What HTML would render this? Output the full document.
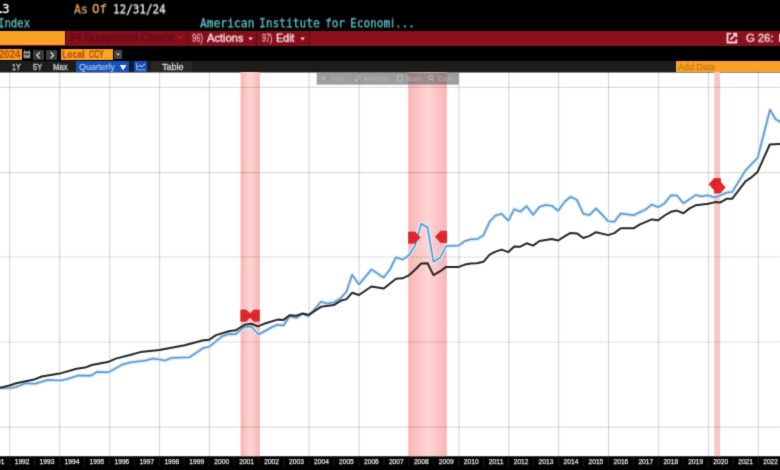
<!DOCTYPE html>
<html lang="en">
<head>
<meta charset="utf-8">
<title>Chart</title>
<style>
html,body{margin:0;padding:0;background:#000;overflow:hidden;}
body{width:780px;height:470px;overflow:hidden;position:relative;font-family:"Liberation Sans",sans-serif;}
#app{position:absolute;left:0;top:0;width:780px;height:470px;background:#000;overflow:hidden;filter:url(#soft);}
.a,.tx{position:absolute;white-space:nowrap;}
.row{position:absolute;left:0;top:0;width:0;height:0;}
.dot{position:relative;left:-5.1px;margin-right:-1ch;}
.ei{font-family:"Liberation Sans",sans-serif;margin-left:0.9px;}
.tx{transform-origin:0 0;will-change:transform;}
.m{font-family:"DejaVu Sans Mono","Liberation Mono",monospace;-webkit-text-stroke:0.3px currentColor;}
.s{font-family:"Liberation Sans","DejaVu Sans",sans-serif;}
.k{-webkit-text-stroke:0.35px currentColor;}
.b{font-weight:bold;-webkit-text-stroke:0.2px currentColor;}
.bar3{left:-10px;top:30.6px;width:800px;height:15px;background:#8b111d;}
.dv{top:30.6px;width:1.2px;height:15px;background:#5e0a13;}
.org{background:#fba226;}
.btn{background:#3a3a3a;}
.bar5{left:-10px;top:60.5px;width:800px;height:12.1px;background:#1c1c1a;}
.blu{background:#1550b6;}
.chart{position:absolute;left:0;top:72px;display:block;overflow:visible;}
.g{stroke:#000;stroke-opacity:0.2;stroke-width:1.2;stroke-dasharray:1.5 0.5;}
.gh{stroke:#000;stroke-opacity:0.18;stroke-width:1.2;stroke-dasharray:1.5 0.5;}
.bl{fill:none;stroke:#5a94cb;stroke-width:1.55;stroke-linejoin:round;}
.halo{fill:none;stroke:#d6ecfb;stroke-width:4;stroke-linejoin:round;}
.bk{fill:none;stroke:#262626;stroke-width:2;stroke-linejoin:round;}
.mk path{fill:#e5272d;stroke:#bf1c24;stroke-width:0.7;stroke-linejoin:round;}
.mkl line{stroke:#c41a24;stroke-width:1;opacity:0.7;}
.yl{font-family:"Liberation Sans",sans-serif;font-size:7.8px;fill:#e4e4e4;text-anchor:middle;stroke:#e4e4e4;stroke-width:0.25;}
.tb text{font-family:"Liberation Sans",sans-serif;font-size:8px;fill:#b3b3b3;}
.tbi path,.tbi rect,.tbi circle{fill:none;stroke:#c8c8c8;stroke-width:0.9;opacity:0.8;}
</style>
</head>
<body>
<svg width="0" height="0" style="position:absolute"><defs><filter id="soft" x="0" y="0" width="100%" height="100%" color-interpolation-filters="sRGB"><feConvolveMatrix order="3" kernelMatrix="1 6 1 6 36 6 1 6 1" divisor="64" edgeMode="duplicate" preserveAlpha="true"/></filter></defs></svg>
<div id="app">
<!-- header bars -->
<div class="a bar3"></div>
<div class="a" style="left:-10px;top:30.6px;width:319.6px;height:15px;background:#85101c;"></div>
<div class="a org" style="left:-10px;top:31.2px;width:74.6px;height:13.8px;"></div>
<div class="a" style="left:64.6px;top:30.6px;width:1.3px;height:15px;background:#3a060c;"></div>
<div class="a dv" style="left:187.1px;"></div>
<div class="a dv" style="left:256.2px;"></div>
<div class="a dv" style="left:309.1px;"></div>
<svg class="a" style="left:176.6px;top:36.4px;" width="8" height="6" viewBox="0 0 8 6"><path d="M0.6 0.6 H5.4 L3 3.6 Z" fill="#b01a2c"/></svg>
<svg class="a" style="left:248px;top:36.6px;" width="6" height="5" viewBox="0 0 6 5"><path d="M0.4 0.6 H4.8 L2.6 3.6 Z" fill="#f6d3d8"/></svg>
<svg class="a" style="left:299.6px;top:36.6px;" width="6" height="5" viewBox="0 0 6 5"><path d="M0.4 0.6 H4.8 L2.6 3.6 Z" fill="#f6d3d8"/></svg>
<svg class="a" style="left:725.6px;top:31.6px;" width="12" height="12" viewBox="0 0 12 12">
<path d="M5 1.7 H1.5 V10.5 H10.3 V7.2" fill="none" stroke="#f8d6db" stroke-width="1.8"/>
<path d="M4.4 7.6 L9.4 2.6" fill="none" stroke="#f8d6db" stroke-width="1.9"/>
<path d="M6 0.8 H11.2 V6 Z" fill="#f8d6db"/>
</svg>
<div class="a" style="left:778.6px;top:33.5px;width:3px;height:8.2px;background:#f1cfd4;"></div>
<!-- row 4 controls -->
<div class="a org" style="left:-10px;top:49.3px;width:31.9px;height:10.8px;"></div>
<svg class="a" style="left:23px;top:50px;" width="8" height="9" viewBox="0 0 8 9">
<rect x="0.5" y="1.4" width="6.8" height="6.8" rx="0.8" fill="#969696"/>
<rect x="1.2" y="0.4" width="1.2" height="1.6" fill="#b0b0b0"/><rect x="5.4" y="0.4" width="1.2" height="1.6" fill="#b0b0b0"/>
<rect x="1.6" y="3.6" width="4.6" height="1.5" fill="#2c2c2c"/>
</svg>
<div class="a btn" style="left:32.7px;top:49.7px;width:11px;height:10.4px;"></div>
<div class="a btn" style="left:46.2px;top:49.7px;width:10.8px;height:10.4px;"></div>
<svg class="a" style="left:32.7px;top:49.7px;" width="25" height="11" viewBox="0 0 25 11">
<path d="M6.8 2.2 L3.8 5.2 L6.8 8.2" fill="none" stroke="#cfcfcf" stroke-width="1.4"/>
<path d="M17.6 2.2 L20.6 5.2 L17.6 8.2" fill="none" stroke="#cfcfcf" stroke-width="1.4"/>
</svg>
<div class="a org" style="left:60.9px;top:49.3px;width:51.7px;height:10.8px;"></div>
<div class="a" style="left:114.3px;top:49.7px;width:7.4px;height:9.6px;background:#454545;"></div>
<svg class="a" style="left:116px;top:53.2px;" width="5" height="4" viewBox="0 0 5 4"><path d="M0.4 0.4 H3.8 L2.1 2.8 Z" fill="#e0e0e0"/></svg>
<!-- row 5 toolbar -->
<div class="a bar5"></div>
<div class="a blu" style="left:75.7px;top:60.9px;width:53.3px;height:11.5px;"></div>
<svg class="a" style="left:119px;top:63.6px;" width="9" height="8" viewBox="0 0 9 8"><path d="M0.8 1 H7.4 L4.1 6.4 Z" fill="#f2f7ff"/></svg>
<div class="a" style="left:129px;top:60.5px;width:5.1px;height:12.1px;background:#0a1a36;"></div>
<div class="a blu" style="left:134.1px;top:60.9px;width:13.3px;height:11.5px;"></div>
<svg class="a" style="left:134.1px;top:61.3px;" width="14" height="11" viewBox="0 0 14 11">
<path d="M2.6 2 V8.8 H11.4" fill="none" stroke="#9cc4ff" stroke-width="0.9"/>
<path d="M3.2 6.4 L5.6 4.2 L7.8 5.8 L11 2.8" fill="none" stroke="#d4e6ff" stroke-width="1"/>
</svg>
<div class="a" style="left:151px;top:60.9px;width:41.2px;height:11.7px;background:#282624;"></div>
<div class="a org" style="left:675.8px;top:61.1px;width:114.2px;height:10.5px;"></div>
<!-- text -->
<div class="row" id="hdr1"><div class="tx m" style="left:1.81px;top:1px;font-size:12.39px;line-height:16px;color:#eeeeee;transform:translateY(0.40px) scaleX(1.0158);"><span class="dot">.</span>3</div>
<div class="tx m" style="left:73.82px;top:1px;font-size:12.39px;line-height:16px;color:#dfa067;transform:translateY(0.40px) scaleX(0.9227);">As</div>
<div class="tx m" style="left:92.11px;top:1px;font-size:12.39px;line-height:16px;color:#dfa067;transform:translateY(0.40px) scaleX(1.0102);">Of</div>
<div class="tx m" style="left:113.20px;top:1px;font-size:12.39px;line-height:16px;color:#eeeeee;transform:translateY(0.40px) scaleX(0.8835);">12/31/24</div></div>
<div class="row" id="hdr2"><div class="tx m" style="left:-2.31px;top:14px;font-size:12.80px;line-height:17px;color:#62c3cc;transform:translateY(0.30px) scaleX(0.8322);">Index</div>
<div class="tx m" style="left:200.12px;top:14px;font-size:12.80px;line-height:17px;color:#62c3cc;transform:translateY(0.30px) scaleX(0.8816);">American</div>
<div class="tx m" style="left:259.25px;top:14px;font-size:12.80px;line-height:17px;color:#62c3cc;transform:translateY(0.30px) scaleX(0.8762);">Institute</div>
<div class="tx m" style="left:324.57px;top:14px;font-size:12.80px;line-height:17px;color:#62c3cc;transform:translateY(0.30px) scaleX(0.8606);">for</div>
<div class="tx m" style="left:350.45px;top:14px;font-size:12.80px;line-height:17px;color:#62c3cc;transform:translateY(0.30px) scaleX(0.8713);">Econom<span class="ei">i</span></div><div class="tx m" style="left:395.10px;top:14px;font-size:12.80px;line-height:17px;color:#62c3cc;transform:translateY(0.30px) scaleX(0.8590);">...</div></div>
<div class="row" id="menu"><div class="tx s k" style="left:69.38px;top:30px;font-size:10.52px;line-height:14px;color:#620b17;transform:translateY(0.30px) scaleX(1.0576);">94 Suggested Charts</div>
<div class="tx s k" style="left:191.54px;top:30px;font-size:11.09px;line-height:14px;color:#f0aab4;transform:translateY(0.70px) scaleX(0.6895);">96)</div>
<div class="tx s k" style="left:206.70px;top:29px;font-size:11.66px;line-height:15px;color:#fbe9ec;transform:translateY(0.70px) scaleX(0.9504);">Actions</div>
<div class="tx s k" style="left:261.87px;top:30px;font-size:11.09px;line-height:14px;color:#f0aab4;transform:translateY(0.70px) scaleX(0.6426);">97)</div>
<div class="tx s k" style="left:276.37px;top:29px;font-size:11.66px;line-height:15px;color:#fbe9ec;transform:translateY(0.70px) scaleX(0.9155);">Edit</div>
<div class="tx s k" style="left:746.47px;top:29px;font-size:11.66px;line-height:15px;color:#f7dde1;transform:translateY(0.70px) scaleX(0.9657);">G 26:</div></div>
<div class="row" id="ctl"><div class="tx s b" style="left:-0.70px;top:48px;font-size:10.10px;line-height:13px;color:#b5500c;transform:translateY(0.00px) scaleX(0.9454);">2024</div>
<div class="tx s b" style="left:61.96px;top:47px;font-size:10.24px;line-height:13px;color:#b5500c;transform:translateY(0.90px) scaleX(0.8431);">Local</div>
<div class="tx s b" style="left:89.08px;top:47px;font-size:10.24px;line-height:13px;color:#b5500c;transform:translateY(0.90px) scaleX(0.6796);">CCY</div></div>
<div class="row" id="tools"><div class="tx s k" style="left:11.76px;top:61px;font-size:8.82px;line-height:12px;color:#d2d2d2;transform:translateY(0.00px) scaleX(0.7988);">1Y</div>
<div class="tx s k" style="left:32.87px;top:61px;font-size:8.82px;line-height:12px;color:#d2d2d2;transform:translateY(0.00px) scaleX(0.8353);">5Y</div>
<div class="tx s k" style="left:53.40px;top:61px;font-size:8.82px;line-height:12px;color:#d2d2d2;transform:translateY(0.00px) scaleX(0.8767);">Max</div>
<div class="tx s" style="left:78.99px;top:61px;font-size:8.96px;line-height:12px;color:#c4e0ff;transform:translateY(0.00px) scaleX(0.9773);">Quarterly</div>
<div class="tx s k" style="left:161.56px;top:61px;font-size:8.82px;line-height:12px;color:#d2d2d2;transform:translateY(0.00px) scaleX(1.0250);">Table</div>
<div class="tx s k" style="left:677.90px;top:61px;font-size:9.39px;line-height:12px;color:#c67b18;transform:translateY(0.00px) scaleX(0.9516);">Add Data</div></div>
<svg class="chart" width="780" height="398" viewBox="0 72 780 398">
<defs>
<linearGradient id="rb" x1="0" x2="1" y1="0" y2="0">
<stop offset="0" stop-color="#f9b4b4"/><stop offset="0.12" stop-color="#fbbcbc"/><stop offset="0.5" stop-color="#fdd6d4"/><stop offset="0.88" stop-color="#fbbcbc"/><stop offset="1" stop-color="#f9b4b4"/>
</linearGradient>
</defs>
<rect x="-10" y="72.5" width="800" height="384.0" fill="#fff"/>
<line x1="9.8" x2="9.8" y1="72" y2="456.5" class="g"/>
<line x1="59.7" x2="59.7" y1="72" y2="456.5" class="g"/>
<line x1="109.6" x2="109.6" y1="72" y2="456.5" class="g"/>
<line x1="159.5" x2="159.5" y1="72" y2="456.5" class="g"/>
<line x1="209.4" x2="209.4" y1="72" y2="456.5" class="g"/>
<line x1="259.3" x2="259.3" y1="72" y2="456.5" class="g"/>
<line x1="309.2" x2="309.2" y1="72" y2="456.5" class="g"/>
<line x1="359.1" x2="359.1" y1="72" y2="456.5" class="g"/>
<line x1="409.0" x2="409.0" y1="72" y2="456.5" class="g"/>
<line x1="458.9" x2="458.9" y1="72" y2="456.5" class="g"/>
<line x1="508.8" x2="508.8" y1="72" y2="456.5" class="g"/>
<line x1="558.7" x2="558.7" y1="72" y2="456.5" class="g"/>
<line x1="608.6" x2="608.6" y1="72" y2="456.5" class="g"/>
<line x1="658.5" x2="658.5" y1="72" y2="456.5" class="g"/>
<line x1="708.4" x2="708.4" y1="72" y2="456.5" class="g"/>
<line x1="758.3" x2="758.3" y1="72" y2="456.5" class="g"/>
<rect x="240.6" y="72" width="18.9" height="384.5" fill="url(#rb)"/>
<rect x="408.4" y="72" width="38.4" height="384.5" fill="url(#rb)"/>
<rect x="714.3" y="72" width="5.8" height="384.5" fill="#f9c8c4"/>
<line x1="-10" x2="790" y1="87.4" y2="87.4" class="gh"/>
<line x1="-10" x2="790" y1="172.7" y2="172.7" class="gh"/>
<line x1="-10" x2="790" y1="257.0" y2="257.0" class="gh"/>
<line x1="-10" x2="790" y1="342.0" y2="342.0" class="gh"/>
<line x1="-10" x2="790" y1="427.1" y2="427.1" class="gh"/>
<polyline points="-12.0,388.6 9.4,388.0 15.3,387.2 25.5,383.3 34.9,383.8 47.6,379.9 59.6,380.4 65.5,379.6 78.3,375.6 91.0,375.6 97.0,371.9 108.9,372.2 121.7,364.8 130.0,362.5 145.5,360.6 153.2,358.4 165.1,360.6 171.0,358.0 189.8,357.2 203.4,347.9 209.3,346.7 222.1,336.3 228.9,333.9 235.7,334.2 242.5,328.3 245.3,326.9 251.3,326.4 258.6,334.5 271.7,327.2 277.6,324.7 283.6,325.5 289.6,316.2 296.4,317.9 302.3,313.6 308.6,316.2 321.0,301.7 327.0,303.4 333.8,302.5 340.6,298.3 346.6,291.5 352.1,274.9 359.0,284.4 371.4,269.4 383.8,277.6 390.1,269.1 396.0,257.2 402.5,259.6 408.8,255.5 415.1,245.6 421.2,223.8 427.5,227.3 433.5,261.8 440.3,257.5 446.2,246.0 458.7,245.6 465.0,240.9 471.0,239.3 476.9,239.3 483.4,235.4 489.7,221.5 495.6,215.5 501.6,213.8 508.4,220.6 514.3,209.1 520.3,211.8 526.6,206.2 533.1,214.7 539.5,206.7 545.8,205.0 551.8,205.7 558.2,210.8 564.5,201.9 570.5,196.8 577.0,199.9 583.3,213.8 589.6,215.0 596.0,208.4 608.3,221.2 614.3,221.7 620.7,213.5 633.5,215.2 645.4,209.6 651.7,204.6 658.2,207.2 664.6,203.3 670.9,195.3 676.9,195.6 683.4,203.3 695.6,195.1 702.1,196.4 707.3,195.3 714.9,197.5 720.6,195.3 727.0,192.5 732.1,192.1 739.2,180.6 745.5,170.4 757.7,157.7 770.0,109.7 775.7,119.4 782.0,122.8 792.0,128.0" class="halo"/>
<polyline points="-12.0,388.6 9.4,388.0 15.3,387.2 25.5,383.3 34.9,383.8 47.6,379.9 59.6,380.4 65.5,379.6 78.3,375.6 91.0,375.6 97.0,371.9 108.9,372.2 121.7,364.8 130.0,362.5 145.5,360.6 153.2,358.4 165.1,360.6 171.0,358.0 189.8,357.2 203.4,347.9 209.3,346.7 222.1,336.3 228.9,333.9 235.7,334.2 242.5,328.3 245.3,326.9 251.3,326.4 258.6,334.5 271.7,327.2 277.6,324.7 283.6,325.5 289.6,316.2 296.4,317.9 302.3,313.6 308.6,316.2 321.0,301.7 327.0,303.4 333.8,302.5 340.6,298.3 346.6,291.5 352.1,274.9 359.0,284.4 371.4,269.4 383.8,277.6 390.1,269.1 396.0,257.2 402.5,259.6 408.8,255.5 415.1,245.6 421.2,223.8 427.5,227.3 433.5,261.8 440.3,257.5 446.2,246.0 458.7,245.6 465.0,240.9 471.0,239.3 476.9,239.3 483.4,235.4 489.7,221.5 495.6,215.5 501.6,213.8 508.4,220.6 514.3,209.1 520.3,211.8 526.6,206.2 533.1,214.7 539.5,206.7 545.8,205.0 551.8,205.7 558.2,210.8 564.5,201.9 570.5,196.8 577.0,199.9 583.3,213.8 589.6,215.0 596.0,208.4 608.3,221.2 614.3,221.7 620.7,213.5 633.5,215.2 645.4,209.6 651.7,204.6 658.2,207.2 664.6,203.3 670.9,195.3 676.9,195.6 683.4,203.3 695.6,195.1 702.1,196.4 707.3,195.3 714.9,197.5 720.6,195.3 727.0,192.5 732.1,192.1 739.2,180.6 745.5,170.4 757.7,157.7 770.0,109.7 775.7,119.4 782.0,122.8 792.0,128.0" class="bl"/>
<polyline points="-12.0,390.6 9.4,385.5 16.2,383.3 34.0,379.6 41.7,376.5 59.6,373.6 76.6,368.8 85.0,367.6 91.9,365.0 108.9,361.7 115.7,358.6 130.0,355.0 140.4,352.1 159.5,349.9 184.7,345.3 203.4,340.2 209.3,339.7 216.1,335.1 228.9,331.3 235.7,330.3 242.5,326.1 245.3,324.7 251.3,323.8 258.0,326.4 264.0,323.8 277.6,319.6 283.6,319.9 289.6,315.3 296.4,315.8 302.3,313.6 308.6,314.8 321.0,306.8 333.8,305.1 340.6,300.8 346.6,299.1 352.2,292.7 359.0,295.0 371.4,286.5 383.8,288.5 396.0,278.8 402.5,278.3 408.8,275.4 415.1,269.8 421.2,263.5 427.5,263.2 433.5,275.1 440.3,271.2 446.2,266.9 458.7,266.9 465.0,264.6 471.0,263.5 476.9,263.2 483.4,261.8 489.7,254.7 495.6,251.6 501.6,249.6 508.4,252.1 514.3,246.5 520.3,246.7 526.6,243.3 533.1,245.6 539.5,241.0 545.8,239.9 551.8,239.0 558.2,240.5 564.5,236.3 570.5,232.9 577.0,233.4 583.3,238.0 589.6,235.9 596.0,232.2 608.3,235.1 614.3,233.1 620.7,228.3 633.5,228.3 639.5,224.6 651.7,219.4 658.2,220.3 664.6,215.5 670.9,211.8 676.9,210.6 683.4,213.2 689.6,208.4 695.6,205.3 702.1,204.5 708.5,203.7 714.9,202.1 720.0,202.6 726.4,198.8 732.1,198.8 739.2,189.6 745.5,181.3 751.3,177.4 757.7,171.7 769.8,144.5 792.0,143.2" class="bk"/>
<g class="mk">
<path d="M240.8 310 L246.3 310 L251.8 315.6 L246.3 321.2 L240.8 321.2 Z"/>
<path d="M259.3 310 L253.8 310 L248.3 315.6 L253.8 321.2 L259.3 321.2 Z"/>
<path d="M408.6 232 L415 232 L420 237.6 L415 243.2 L408.6 243.2 Z"/>
<path d="M446.7 231.2 L440.5 231.2 L435.5 236.8 L440.5 242.4 L446.7 242.4 Z"/>
<path d="M720.5 178.6 L714 178.6 L709 184.2 L714 189.8 L720.5 189.8 Z"/>
<path d="M714.4 181.8 L720.3 181.8 L725.3 187.4 L720.3 193 L714.4 193 Z"/>
</g>
<g class="mkl"><line x1="241" x2="259.4" y1="315.6" y2="315.6"/><line x1="408.6" x2="419" y1="237.6" y2="237.6"/><line x1="436.5" x2="446.7" y1="236.8" y2="236.8"/></g>
<rect x="-10" y="456.5" width="800" height="23.5" fill="#000"/>
<line x1="-15.3" x2="-15.3" y1="456.5" y2="466" stroke="#1d1d1d" stroke-width="1"/>
<line x1="9.6" x2="9.6" y1="456.5" y2="466" stroke="#1d1d1d" stroke-width="1"/>
<line x1="34.5" x2="34.5" y1="456.5" y2="466" stroke="#1d1d1d" stroke-width="1"/>
<line x1="59.5" x2="59.5" y1="456.5" y2="466" stroke="#1d1d1d" stroke-width="1"/>
<line x1="84.4" x2="84.4" y1="456.5" y2="466" stroke="#1d1d1d" stroke-width="1"/>
<line x1="109.4" x2="109.4" y1="456.5" y2="466" stroke="#1d1d1d" stroke-width="1"/>
<line x1="134.3" x2="134.3" y1="456.5" y2="466" stroke="#1d1d1d" stroke-width="1"/>
<line x1="159.3" x2="159.3" y1="456.5" y2="466" stroke="#1d1d1d" stroke-width="1"/>
<line x1="184.2" x2="184.2" y1="456.5" y2="466" stroke="#1d1d1d" stroke-width="1"/>
<line x1="209.2" x2="209.2" y1="456.5" y2="466" stroke="#1d1d1d" stroke-width="1"/>
<line x1="234.1" x2="234.1" y1="456.5" y2="466" stroke="#1d1d1d" stroke-width="1"/>
<line x1="259.1" x2="259.1" y1="456.5" y2="466" stroke="#1d1d1d" stroke-width="1"/>
<line x1="284.1" x2="284.1" y1="456.5" y2="466" stroke="#1d1d1d" stroke-width="1"/>
<line x1="309.0" x2="309.0" y1="456.5" y2="466" stroke="#1d1d1d" stroke-width="1"/>
<line x1="333.9" x2="333.9" y1="456.5" y2="466" stroke="#1d1d1d" stroke-width="1"/>
<line x1="358.9" x2="358.9" y1="456.5" y2="466" stroke="#1d1d1d" stroke-width="1"/>
<line x1="383.9" x2="383.9" y1="456.5" y2="466" stroke="#1d1d1d" stroke-width="1"/>
<line x1="408.8" x2="408.8" y1="456.5" y2="466" stroke="#1d1d1d" stroke-width="1"/>
<line x1="433.8" x2="433.8" y1="456.5" y2="466" stroke="#1d1d1d" stroke-width="1"/>
<line x1="458.7" x2="458.7" y1="456.5" y2="466" stroke="#1d1d1d" stroke-width="1"/>
<line x1="483.7" x2="483.7" y1="456.5" y2="466" stroke="#1d1d1d" stroke-width="1"/>
<line x1="508.6" x2="508.6" y1="456.5" y2="466" stroke="#1d1d1d" stroke-width="1"/>
<line x1="533.5" x2="533.5" y1="456.5" y2="466" stroke="#1d1d1d" stroke-width="1"/>
<line x1="558.5" x2="558.5" y1="456.5" y2="466" stroke="#1d1d1d" stroke-width="1"/>
<line x1="583.5" x2="583.5" y1="456.5" y2="466" stroke="#1d1d1d" stroke-width="1"/>
<line x1="608.4" x2="608.4" y1="456.5" y2="466" stroke="#1d1d1d" stroke-width="1"/>
<line x1="633.4" x2="633.4" y1="456.5" y2="466" stroke="#1d1d1d" stroke-width="1"/>
<line x1="658.3" x2="658.3" y1="456.5" y2="466" stroke="#1d1d1d" stroke-width="1"/>
<line x1="683.2" x2="683.2" y1="456.5" y2="466" stroke="#1d1d1d" stroke-width="1"/>
<line x1="708.2" x2="708.2" y1="456.5" y2="466" stroke="#1d1d1d" stroke-width="1"/>
<line x1="733.1" x2="733.1" y1="456.5" y2="466" stroke="#1d1d1d" stroke-width="1"/>
<line x1="758.1" x2="758.1" y1="456.5" y2="466" stroke="#1d1d1d" stroke-width="1"/>
<line x1="783.0" x2="783.0" y1="456.5" y2="466" stroke="#1d1d1d" stroke-width="1"/>
<text x="-2.9" y="464.4" class="yl" textLength="14.8" lengthAdjust="spacingAndGlyphs">1991</text>
<text x="22.1" y="464.4" class="yl" textLength="14.8" lengthAdjust="spacingAndGlyphs">1992</text>
<text x="47.0" y="464.4" class="yl" textLength="14.8" lengthAdjust="spacingAndGlyphs">1993</text>
<text x="72.0" y="464.4" class="yl" textLength="14.8" lengthAdjust="spacingAndGlyphs">1994</text>
<text x="96.9" y="464.4" class="yl" textLength="14.8" lengthAdjust="spacingAndGlyphs">1995</text>
<text x="121.9" y="464.4" class="yl" textLength="14.8" lengthAdjust="spacingAndGlyphs">1996</text>
<text x="146.8" y="464.4" class="yl" textLength="14.8" lengthAdjust="spacingAndGlyphs">1997</text>
<text x="171.8" y="464.4" class="yl" textLength="14.8" lengthAdjust="spacingAndGlyphs">1998</text>
<text x="196.7" y="464.4" class="yl" textLength="14.8" lengthAdjust="spacingAndGlyphs">1999</text>
<text x="221.7" y="464.4" class="yl" textLength="14.8" lengthAdjust="spacingAndGlyphs">2000</text>
<text x="246.6" y="464.4" class="yl" textLength="14.8" lengthAdjust="spacingAndGlyphs">2001</text>
<text x="271.6" y="464.4" class="yl" textLength="14.8" lengthAdjust="spacingAndGlyphs">2002</text>
<text x="296.5" y="464.4" class="yl" textLength="14.8" lengthAdjust="spacingAndGlyphs">2003</text>
<text x="321.5" y="464.4" class="yl" textLength="14.8" lengthAdjust="spacingAndGlyphs">2004</text>
<text x="346.4" y="464.4" class="yl" textLength="14.8" lengthAdjust="spacingAndGlyphs">2005</text>
<text x="371.4" y="464.4" class="yl" textLength="14.8" lengthAdjust="spacingAndGlyphs">2006</text>
<text x="396.3" y="464.4" class="yl" textLength="14.8" lengthAdjust="spacingAndGlyphs">2007</text>
<text x="421.3" y="464.4" class="yl" textLength="14.8" lengthAdjust="spacingAndGlyphs">2008</text>
<text x="446.2" y="464.4" class="yl" textLength="14.8" lengthAdjust="spacingAndGlyphs">2009</text>
<text x="471.2" y="464.4" class="yl" textLength="14.8" lengthAdjust="spacingAndGlyphs">2010</text>
<text x="496.1" y="464.4" class="yl" textLength="14.8" lengthAdjust="spacingAndGlyphs">2011</text>
<text x="521.1" y="464.4" class="yl" textLength="14.8" lengthAdjust="spacingAndGlyphs">2012</text>
<text x="546.0" y="464.4" class="yl" textLength="14.8" lengthAdjust="spacingAndGlyphs">2013</text>
<text x="571.0" y="464.4" class="yl" textLength="14.8" lengthAdjust="spacingAndGlyphs">2014</text>
<text x="595.9" y="464.4" class="yl" textLength="14.8" lengthAdjust="spacingAndGlyphs">2015</text>
<text x="620.9" y="464.4" class="yl" textLength="14.8" lengthAdjust="spacingAndGlyphs">2016</text>
<text x="645.8" y="464.4" class="yl" textLength="14.8" lengthAdjust="spacingAndGlyphs">2017</text>
<text x="670.8" y="464.4" class="yl" textLength="14.8" lengthAdjust="spacingAndGlyphs">2018</text>
<text x="695.7" y="464.4" class="yl" textLength="14.8" lengthAdjust="spacingAndGlyphs">2019</text>
<text x="720.7" y="464.4" class="yl" textLength="14.8" lengthAdjust="spacingAndGlyphs">2020</text>
<text x="745.6" y="464.4" class="yl" textLength="14.8" lengthAdjust="spacingAndGlyphs">2021</text>
<text x="770.6" y="464.4" class="yl" textLength="14.8" lengthAdjust="spacingAndGlyphs">2022</text>
<rect x="316.7" y="72.5" width="142.1" height="12.1" fill="#5a5a5a" fill-opacity="0.6"/>
<g class="tbi"><path d="M321.2 78.4 H326 M323.6 76 V80.8"/><path d="M355.2 81 L356 78.8 L359.6 75.4 L361 76.8 L357.4 80.2 Z"/><rect x="397.6" y="75.6" width="4.6" height="5.6"/><circle cx="430.6" cy="77.6" r="2"/><path d="M432 79.2 L434.2 81.6"/></g>
<g class="tb"><text x="330.4" y="81.2" textLength="14.6" lengthAdjust="spacingAndGlyphs">Track</text><text x="363.4" y="81.2" textLength="26.4" lengthAdjust="spacingAndGlyphs">Annotate</text><text x="405.6" y="81.2" textLength="16.2" lengthAdjust="spacingAndGlyphs">News</text><text x="437.4" y="81.2" textLength="17" lengthAdjust="spacingAndGlyphs">Zoom</text></g>
</svg>
</div>
</body>
</html>
